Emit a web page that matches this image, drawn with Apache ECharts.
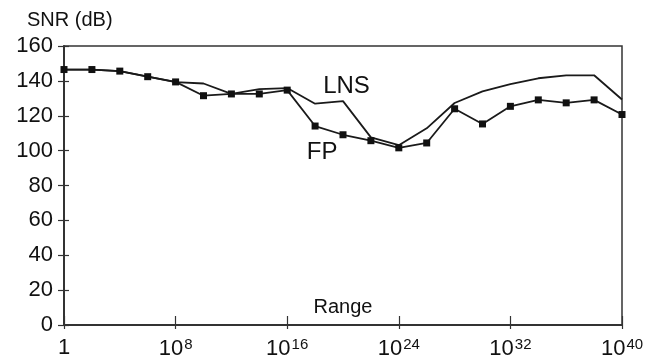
<!DOCTYPE html>
<html><head><meta charset="utf-8">
<script src="https://cdn.jsdelivr.net/npm/echarts@6/dist/echarts.min.js"></script>
<style>html,body{margin:0;padding:0;background:#fff}#c{width:649px;height:360px}</style>
</head><body><div id="c"></div>
<script>
const exponents = [0,2,4,6,8,10,12,14,16,18,20,22,24,26,28,30,32,34,36,38,40];
const lnsValues = [146.5,146.5,145.6,142.4,139.3,138.5,132.5,135.3,135.9,126.9,128.4,107.6,103.1,112.8,127.3,134,138.1,141.5,143.2,143.2,129.3];
const fpValues  = [146.5,146.5,145.6,142.4,139.4,131.5,132.5,132.5,134.7,114.1,109.1,105.7,101.6,104.4,124,115.3,125.4,129.1,127.4,129.1,120.7];
const seriesLabels = [{name:'LNS', at:[20.25,137]},{name:'FP', at:[18.5,99]}];
const xAxisTitle = 'Range';
const yAxisTitle = 'SNR (dB)';

const font = 'Liberation Sans, Arial, sans-serif';
const ink = '#111';
const axisCol = '#333';
const chart = echarts.init(document.getElementById('c'), null, {renderer:'canvas'});
const pair = (vals) => exponents.map((e,i)=>[e, vals[i]]);
const seriesLabel = (s) => ({symbol:'circle',symbolSize:0,silent:true,
  data:[{coord:s.at,label:{show:true,position:'inside',formatter:s.name,fontFamily:font,fontSize:24,color:ink}}]});
const xBase = {type:'value',min:0,max:40,interval:8,gridIndex:0,position:'bottom',splitLine:{show:false}};
const yBase = {type:'value',min:0,max:160,interval:20,gridIndex:0,position:'left',splitLine:{show:false}};
chart.setOption({
  animation:false,
  grid:{left:64,right:27,top:46,bottom:29,show:true,borderColor:axisCol,borderWidth:1.5,backgroundColor:'transparent'},
  title:{text:yAxisTitle,left:27,top:10,padding:0,textStyle:{fontFamily:font,fontSize:20,fontWeight:'normal',color:ink}},
  xAxis:[
    Object.assign({}, xBase, {
      name:xAxisTitle,nameLocation:'middle',nameGap:-28,nameTextStyle:{fontFamily:font,fontSize:20,color:ink},
      axisLine:{lineStyle:{color:axisCol,width:2}},
      axisTick:{show:true,inside:true,length:9,lineStyle:{color:axisCol,width:1.2}},
      axisLabel:{margin:12,color:ink,fontFamily:font,fontSize:22,
        formatter:v=> v===0 ? '{b|1}' : '{b|10}{s|'+v+'}',
        rich:{b:{fontFamily:font,fontSize:22,color:ink},s:{fontFamily:font,fontSize:15,color:ink,padding:[0,0,9,1]}}}
    }),
    Object.assign({}, xBase, {
      axisLine:{show:false},axisLabel:{show:false},
      axisTick:{show:true,inside:false,length:4,lineStyle:{color:axisCol,width:1.2}}
    })
  ],
  yAxis:[
    Object.assign({}, yBase, {
      axisLine:{show:true,lineStyle:{color:axisCol,width:2}},
      axisTick:{show:true,length:6,lineStyle:{color:axisCol,width:1.2}},
      axisLabel:{margin:11,color:ink,fontFamily:font,fontSize:22}
    }),
    Object.assign({}, yBase, {
      axisLine:{show:false},axisLabel:{show:false},
      axisTick:{show:true,inside:true,length:5,lineStyle:{color:axisCol,width:1.2}}
    })
  ],
  series:[
    {name:'LNS',type:'line',data:pair(lnsValues),symbol:'none',lineStyle:{color:'#1a1a1a',width:1.8},
     markPoint:seriesLabel(seriesLabels[0])},
    {name:'FP',type:'line',data:pair(fpValues),symbol:'rect',symbolSize:7,itemStyle:{color:'#111'},lineStyle:{color:'#1a1a1a',width:1.8},
     markPoint:seriesLabel(seriesLabels[1])}
  ]
});
</script></body></html>
